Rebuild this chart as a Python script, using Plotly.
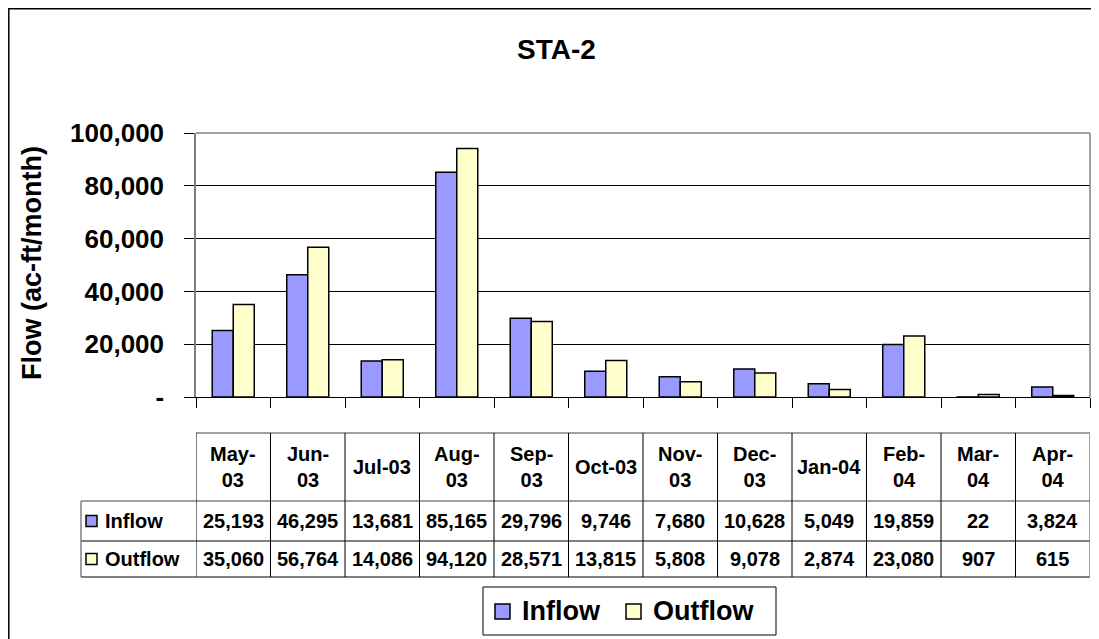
"""STA-2 monthly inflow / outflow bar chart with data table underneath."""

import plotly.graph_objects as go

# the page puts the figure 8px in from the top-left corner
OX, OY = 8, 8
W, H = 1099 - OX, 639 - OY

MONTHS = ["May-03", "Jun-03", "Jul-03", "Aug-03", "Sep-03", "Oct-03",
          "Nov-03", "Dec-03", "Jan-04", "Feb-04", "Mar-04", "Apr-04"]
INFLOW = [25193, 46295, 13681, 85165, 29796, 9746, 7680, 10628, 5049, 19859, 22, 3824]
OUTFLOW = [35060, 56764, 14086, 94120, 28571, 13815, 5808, 9078, 2874, 23080, 907, 615]
SERIES_NAMES = ["Inflow", "Outflow"]

Y_TICKS = [0, 20000, 40000, 60000, 80000, 100000]
Y_TICK_TEXT = ["-", "20,000", "40,000", "60,000", "80,000", "100,000"]
# headers that fit on one line in the table; the rest wrap after the dash
ONE_LINE_HEADERS = {"Jul-03", "Oct-03", "Jan-04"}

TITLE = "STA-2"
Y_TITLE = "Flow (ac-ft/month)"

_C = {
    "inflow": "#9999FF",
    "outflow": "#FFFFCC",
    "edge": "#000000",
    "frame": "#808080",
}
FONT = "Liberation Sans, Arial, sans-serif"


def px_x(x):
    """page pixel -> paper x"""
    return (x - OX) / W


def px_y(y):
    """page pixel (from top) -> paper y"""
    return 1 - (y - OY) / H


def label(text, x, y, size, xref="paper", **kw):
    return dict(text=f"<b>{text}</b>", xref=xref, yref="paper", x=x, y=y,
                xanchor=kw.pop("xanchor", "center"), yanchor="middle",
                showarrow=False, font=dict(size=size, family=FONT, color="black"), **kw)


fig = go.Figure()
for name, vals, color in [
    (SERIES_NAMES[0], INFLOW, _C["inflow"]),
    (SERIES_NAMES[1], OUTFLOW, _C["outflow"]),
]:
    fig.add_trace(
        go.Bar(
            x=MONTHS,
            y=vals,
            name=name,
            marker=dict(color=color, line=dict(color=_C["edge"], width=1.5)),
            showlegend=False,
        )
    )

shapes = []
annotations = []

# outer chart frame (runs off the right / bottom of the picture)
shapes.append(dict(type="rect", xref="paper", yref="paper",
                   x0=px_x(8.8), x1=1.02, y0=-0.02, y1=px_y(8.8),
                   line=dict(color="#000000", width=1.5)))

# plot area top and right edges in grey
shapes.append(dict(type="line", xref="paper", yref="paper", layer="above",
                   x0=px_x(196), x1=px_x(1090), y0=px_y(133), y1=px_y(133),
                   line=dict(color=_C["frame"], width=1.5)))
shapes.append(dict(type="line", xref="paper", yref="paper", layer="above",
                   x0=px_x(1090), x1=px_x(1090), y0=px_y(133), y1=px_y(397),
                   line=dict(color=_C["frame"], width=1.5)))

annotations.append(label(TITLE, px_x(556), px_y(49), 28))
annotations.append(label(Y_TITLE, px_x(32), px_y(263), 27, textangle=-90))

# ---- data table ----
T_TOP, T_HEAD, T_ROW1, T_BOT = 433, 501, 541, 577
T_LEFT, T_RIGHT = 81, 1090
line_dark = dict(color="#000000", width=1)
line_grey = dict(color=_C["frame"], width=1.5)

shapes.append(dict(type="line", xref="paper", yref="paper",
                   x0=px_x(196), x1=px_x(T_RIGHT), y0=px_y(T_TOP), y1=px_y(T_TOP), line=line_grey))
shapes.append(dict(type="line", xref="paper", yref="paper",
                   x0=px_x(T_LEFT), x1=px_x(T_RIGHT), y0=px_y(T_HEAD), y1=px_y(T_HEAD), line=line_grey))
for yy in (T_ROW1, T_BOT):
    shapes.append(dict(type="line", xref="paper", yref="paper",
                       x0=px_x(T_LEFT), x1=px_x(T_RIGHT), y0=px_y(yy), y1=px_y(yy), line=line_dark))
shapes.append(dict(type="line", xref="paper", yref="paper",
                   x0=px_x(T_LEFT), x1=px_x(T_LEFT), y0=px_y(T_HEAD), y1=px_y(T_BOT), line=line_grey))
for k in range(len(MONTHS) + 1):
    shapes.append(dict(type="line", xref="x", yref="paper",
                       x0=k - 0.5, x1=k - 0.5, y0=px_y(T_TOP), y1=px_y(T_BOT),
                       line=line_grey if k == len(MONTHS) else line_dark))

for m, a, b in zip(MONTHS, INFLOW, OUTFLOW):
    head = m if m in ONE_LINE_HEADERS else m.replace("-", "-<br>")
    annotations.append(label(head, m, px_y((T_TOP + T_HEAD) / 2), 20, xref="x"))
    annotations.append(label(f"{a:,}", m, px_y((T_HEAD + T_ROW1) / 2), 20, xref="x"))
    annotations.append(label(f"{b:,}", m, px_y((T_ROW1 + T_BOT) / 2), 20, xref="x"))

for name, color, (r0, r1) in [
    (SERIES_NAMES[0], _C["inflow"], (T_HEAD, T_ROW1)),
    (SERIES_NAMES[1], _C["outflow"], (T_ROW1, T_BOT)),
]:
    yc = (r0 + r1) / 2
    shapes.append(dict(type="rect", xref="paper", yref="paper",
                       x0=px_x(86), x1=px_x(97), y0=px_y(yc + 5.5), y1=px_y(yc - 5.5),
                       fillcolor=color, line=dict(color="black", width=1.5)))
    annotations.append(label(name, px_x(103), px_y(yc), 20, xanchor="left"))

# ---- legend box ----
shapes.append(dict(type="rect", xref="paper", yref="paper",
                   x0=px_x(483), x1=px_x(776), y0=px_y(635), y1=px_y(587),
                   line=dict(color="black", width=1)))
for name, color, sx, tx in [
    (SERIES_NAMES[0], _C["inflow"], 495, 520),
    (SERIES_NAMES[1], _C["outflow"], 626, 651),
]:
    shapes.append(dict(type="rect", xref="paper", yref="paper",
                       x0=px_x(sx), x1=px_x(sx + 15), y0=px_y(619), y1=px_y(604),
                       fillcolor=color, line=dict(color="black", width=1.5)))
    annotations.append(label(name, px_x(tx), px_y(611), 27, xanchor="left"))

fig.update_layout(
    width=W,
    height=H,
    template="none",
    paper_bgcolor="white",
    plot_bgcolor="white",
    margin=dict(l=0, r=0, t=0, b=0),
    barmode="group",
    bargap=0.436,
    bargroupgap=0,
    showlegend=False,
    font=dict(family=FONT, color="black"),
    shapes=shapes,
    annotations=annotations,
)
fig.update_xaxes(
    type="category",
    domain=[px_x(196), px_x(1090)],
    range=[-0.5, len(MONTHS) - 0.5],
    showline=True, linecolor="black", linewidth=1,
    ticks="outside", tickson="boundaries", ticklen=10, tickcolor="black", tickwidth=1,
    showticklabels=False, showgrid=False, zeroline=False,
    automargin=False,
)
fig.update_yaxes(
    domain=[px_y(397), px_y(133)],
    range=[0, 100000],
    tickvals=Y_TICKS, ticktext=Y_TICK_TEXT,
    ticks="outside", ticklen=10, tickcolor="black", tickwidth=1,
    tickfont=dict(size=26, family=FONT, color="black", weight="bold"),
    ticklabelstandoff=15,
    showline=True, linecolor=_C["frame"], linewidth=1.5,
    showgrid=True, gridcolor="black", gridwidth=1,
    zeroline=False,
    automargin=False,
)

fig.write_html("out.html")
